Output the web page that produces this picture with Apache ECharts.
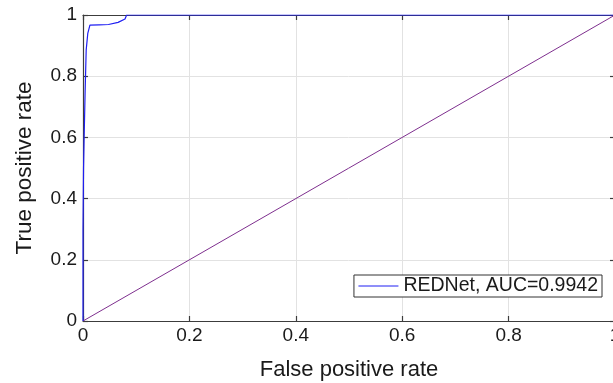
<!DOCTYPE html>
<html>
<head>
<meta charset="utf-8">
<script src="https://cdn.jsdelivr.net/npm/echarts@6.0.0/dist/echarts.min.js"></script>
<style>
  html, body { margin: 0; padding: 0; background: #fff; }
  #chart { width: 613px; height: 383px; }
</style>
</head>
<body>
<div id="chart"></div>
<script>
  // ROC curve points (false positive rate, true positive rate)
  var rocFpr = [0, 0, 0.001, 0.001, 0.002, 0.002, 0.004, 0.004, 0.006, 0.006, 0.009, 0.009, 0.013, 0.030, 0.048, 0.048, 0.066, 0.079, 0.082, 1];
  var rocTpr = [0, 0.30, 0.30, 0.50, 0.50, 0.587, 0.587, 0.75, 0.75, 0.886, 0.886, 0.94, 0.967, 0.968, 0.969, 0.973, 0.976, 0.987, 1, 1];
  var chanceLine = [[0, 0], [1, 1]];
  var seriesName = "REDNet, AUC=0.9942";
  var xName = "False positive rate";
  var yName = "True positive rate";

  var FONT = "Liberation Sans, Arial, Helvetica, sans-serif";
  var AXIS = "#3c3c3c";
  var GRID = "#e2e2e2";

  var chart = echarts.init(document.getElementById("chart"), null, { renderer: "canvas" });

  var roc = rocFpr.map(function (x, i) { return [x, rocTpr[i]]; });

  function axisBase(show) {
    return {
      type: "value", min: 0, max: 1, interval: 0.2,
      axisLine: { show: true, onZero: false, lineStyle: { color: AXIS, width: 1.2 } },
      axisTick: { show: true, inside: true, length: 5, lineStyle: { color: AXIS, width: 1.2 } },
      axisLabel: { show: show, color: "#1a1a1a", fontFamily: FONT, fontSize: 19 },
      splitLine: { show: show, lineStyle: { color: GRID, width: 1 } }
    };
  }

  var xBottom = axisBase(true);
  xBottom.position = "bottom";
  xBottom.name = xName;
  xBottom.nameLocation = "middle";
  xBottom.nameGap = 38;
  xBottom.nameTextStyle = { color: "#1a1a1a", fontFamily: FONT, fontSize: 22 };
  xBottom.axisLabel.margin = 5;

  var xTop = axisBase(false);
  xTop.position = "top";

  var yLeft = axisBase(true);
  yLeft.position = "left";
  yLeft.name = yName;
  yLeft.nameLocation = "middle";
  yLeft.nameGap = 47;
  yLeft.nameTextStyle = { color: "#1a1a1a", fontFamily: FONT, fontSize: 22.5 };
  yLeft.axisLabel.margin = 6;

  var yRight = axisBase(false);
  yRight.position = "right";

  chart.setOption({
    backgroundColor: "#fff",
    animation: false,
    grid: { left: 83, right: -2, top: 15, bottom: 62, outerBoundsMode: "none", containLabel: false },
    legend: {
      data: [seriesName],
      right: 11, top: 275,
      backgroundColor: "#fff",
      borderColor: "#333", borderWidth: 1,
      padding: [1, 4, 1, 4],
      itemWidth: 40, itemHeight: 12, itemGap: 5,
      itemStyle: { opacity: 0 },
      lineStyle: { width: 1 },
      textStyle: { color: "#1a1a1a", fontFamily: FONT, fontSize: 19.5 }
    },
    xAxis: [xBottom, xTop],
    yAxis: [yLeft, yRight],
    series: [
      {
        name: "chance", type: "line", data: chanceLine,
        symbol: "none", silent: true,
        lineStyle: { color: "#7e2f8e", width: 1 }
      },
      {
        name: seriesName, type: "line", data: roc,
        symbol: "none", z: 5,
        lineStyle: { color: "#1f1ff2", width: 1.2 },
        itemStyle: { color: "#1f1ff2" }
      }
    ]
  });
</script>
</body>
</html>
